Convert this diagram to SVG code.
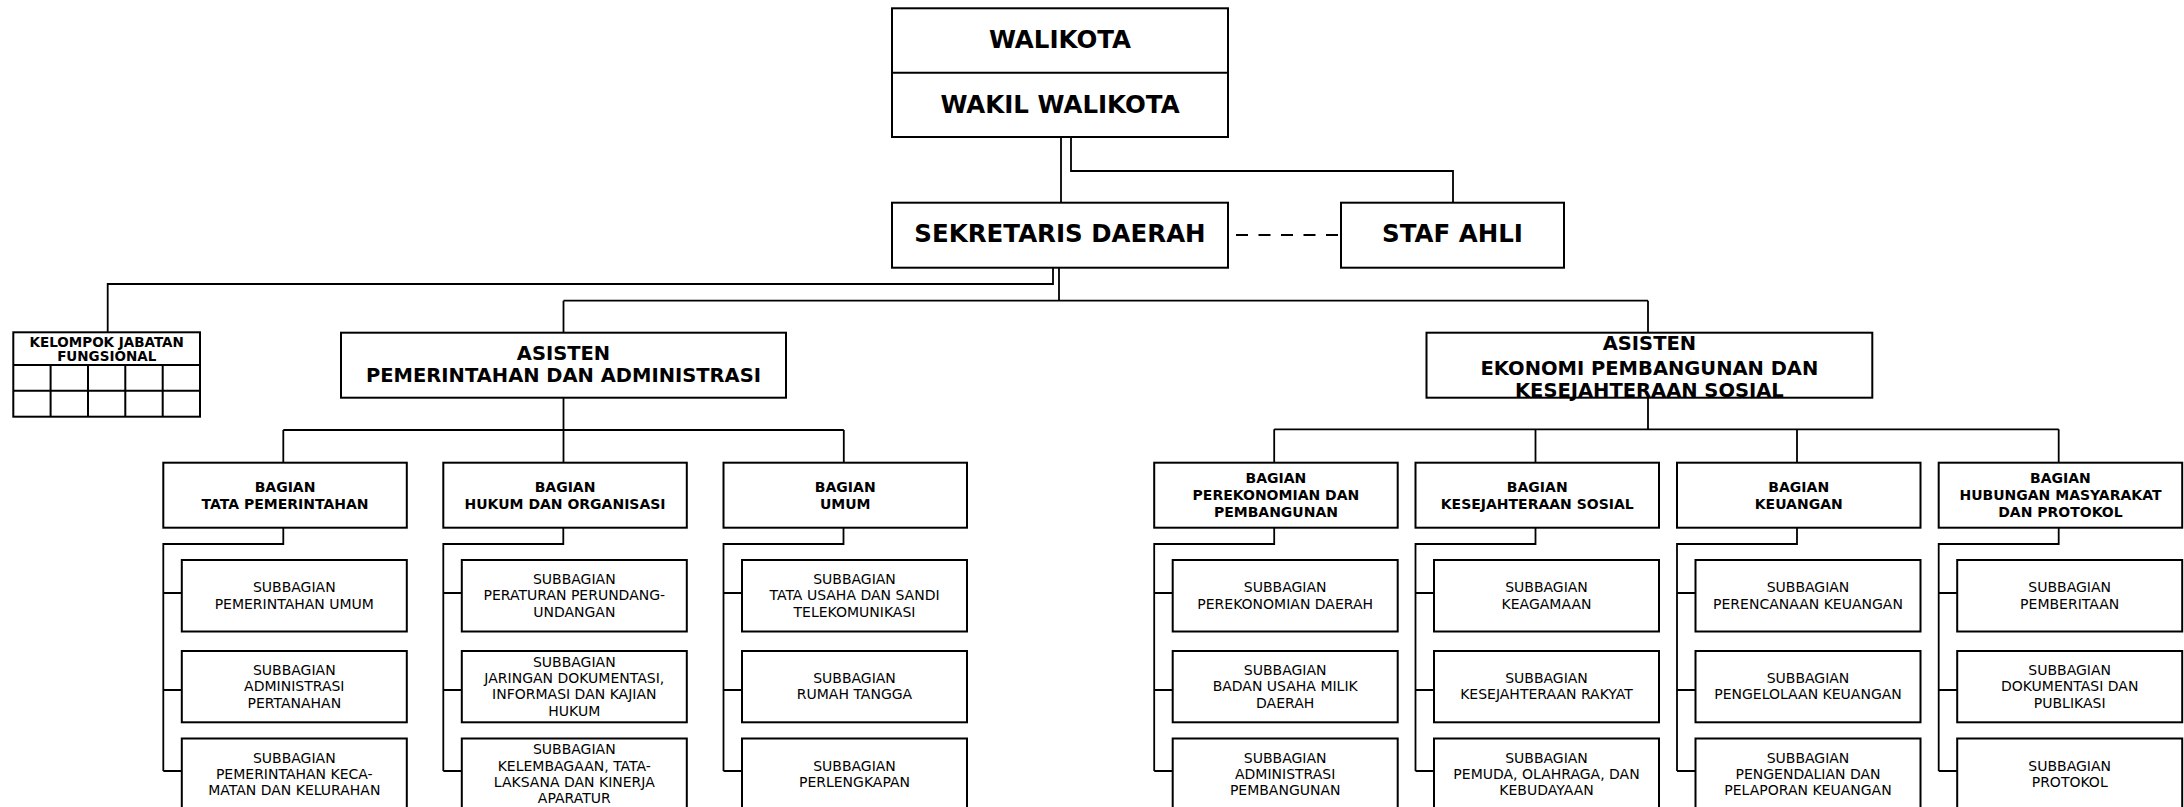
<svg xmlns="http://www.w3.org/2000/svg" width="2184" height="807" viewBox="0 0 2184 807">
<style>
.box{fill:#fff;stroke:#000;stroke-width:2}
.cn{fill:none;stroke:#000;stroke-width:1.8}
text{font-family:"DejaVu Sans","Liberation Sans",sans-serif;fill:#000;text-anchor:middle}
.tt{font-size:24.5px;font-weight:bold}
.ta{font-size:19.5px;font-weight:bold}
.tb{font-size:14px;font-weight:bold}
.ts{font-size:14px}
.tk{font-size:13.5px;font-weight:bold}
</style>
<rect width="2184" height="807" fill="#fff"/>
<g id="connectors">
<path class="cn" d="M1061,137V203"/>
<path class="cn" d="M1071,137V171H1453V203"/>
<path class="cn" d="M1053,267V284H107.7V332"/>
<path class="cn" d="M1059,267V300.7M563.5,300.7H1648M563.5,300.7V332.7M1648,300.7V332.7"/>
<path class="cn" d="M1236,235H1341" stroke-dasharray="12 10.5"/>
<path class="cn" d="M563.5,397.7V462.7M283.3,430H843.8M283.3,430V462.7M843.8,430V462.7"/>
<path class="cn" d="M1648,397.7V429.3M1274.2,429.3H2058.7M1274.2,429.3V462.7M1535.5,429.3V462.7M1797,429.3V462.7M2058.7,429.3V462.7"/>
<path class="cn" d="M283.3,527.7V544H163.3V771M163.3,593H181.8M163.3,690H181.8M163.3,771H181.8"/>
<path class="cn" d="M563.3,527.7V544H443.3V771M443.3,593H461.8M443.3,690H461.8M443.3,771H461.8"/>
<path class="cn" d="M843.5,527.7V544H723.5V771M723.5,593H742M723.5,690H742M723.5,771H742"/>
<path class="cn" d="M1274.2,527.7V544H1154.2V771M1154.2,593H1172.7M1154.2,690H1172.7M1154.2,771H1172.7"/>
<path class="cn" d="M1535.5,527.7V544H1415.5V771M1415.5,593H1434M1415.5,690H1434M1415.5,771H1434"/>
<path class="cn" d="M1797,527.7V544H1677V771M1677,593H1695.5M1677,690H1695.5M1677,771H1695.5"/>
<path class="cn" d="M2058.7,527.7V544H1938.7V771M1938.7,593H1957.2M1938.7,690H1957.2M1938.7,771H1957.2"/>
</g>
<g id="walikota">
<rect class="box" x="892" y="8.3" width="336" height="128.7"/>
<path class="cn" d="M892,72.7H1228" style="stroke-width:2"/>
<text class="tt" x="1060" y="48.3">WALIKOTA</text>
<text class="tt" x="1060" y="113.3">WAKIL WALIKOTA</text>
</g>
<g id="sekda">
<rect class="box" x="892" y="202.7" width="336" height="65"/>
<text class="tt" x="1060" y="241.7">SEKRETARIS DAERAH</text>
</g>
<g id="staf-ahli">
<rect class="box" x="1341" y="202.7" width="223" height="65"/>
<text class="tt" x="1452.5" y="241.7">STAF AHLI</text>
</g>
<g id="kelompok">
<rect class="box" x="13.3" y="332.3" width="186.7" height="84.4"/>
<path class="cn" d="M13.3,365H200M13.3,390.7H200M50.6,365V416.7M88,365V416.7M125.3,365V416.7M162.7,365V416.7" style="stroke-width:2"/>
<text class="tk" x="106.7" y="346.7">KELOMPOK JABATAN</text>
<text class="tk" x="106.7" y="360.7">FUNGSIONAL</text>
</g>
<g id="asisten-pa">
<rect class="box" x="341" y="332.7" width="445" height="65"/>
<text class="ta" x="563.5" y="360.3">ASISTEN</text>
<text class="ta" x="563.5" y="381.5">PEMERINTAHAN DAN ADMINISTRASI</text>
</g>
<g id="asisten-epk">
<rect class="box" x="1426.5" y="332.7" width="445.8" height="65"/>
<text class="ta" x="1649.4" y="349.5">ASISTEN</text>
<text class="ta" x="1649.4" y="374.5">EKONOMI PEMBANGUNAN DAN</text>
<text class="ta" x="1649.4" y="396.5">KESEJAHTERAAN SOSIAL</text>
</g>
<g id="bagian-tata">
<rect class="box" x="163.3" y="462.7" width="243.5" height="65"/>
<text class="tb" x="285.05" y="491.6">BAGIAN</text>
<text class="tb" x="285.05" y="508.6">TATA PEMERINTAHAN</text>
</g>
<g id="sub-tata-1"><rect class="box" x="181.8" y="560" width="225" height="71.5"/>
<text class="ts" x="294.3" y="592.25">SUBBAGIAN</text><text class="ts" x="294.3" y="608.55">PEMERINTAHAN UMUM</text></g>
<g id="sub-tata-2"><rect class="box" x="181.8" y="651" width="225" height="71.3"/>
<text class="ts" x="294.3" y="675">SUBBAGIAN</text><text class="ts" x="294.3" y="691.3">ADMINISTRASI</text><text class="ts" x="294.3" y="707.6">PERTANAHAN</text></g>
<g id="sub-tata-3"><rect class="box" x="181.8" y="738.5" width="225" height="71.3"/>
<text class="ts" x="294.3" y="762.5">SUBBAGIAN</text><text class="ts" x="294.3" y="778.8">PEMERINTAHAN KECA-</text><text class="ts" x="294.3" y="795.1">MATAN DAN KELURAHAN</text></g>
<g id="bagian-hukum">
<rect class="box" x="443.3" y="462.7" width="243.5" height="65"/>
<text class="tb" x="565.05" y="491.6">BAGIAN</text>
<text class="tb" x="565.05" y="508.6">HUKUM DAN ORGANISASI</text>
</g>
<g id="sub-hukum-1"><rect class="box" x="461.8" y="560" width="225" height="71.5"/>
<text class="ts" x="574.3" y="584.1">SUBBAGIAN</text><text class="ts" x="574.3" y="600.4">PERATURAN PERUNDANG-</text><text class="ts" x="574.3" y="616.7">UNDANGAN</text></g>
<g id="sub-hukum-2"><rect class="box" x="461.8" y="651" width="225" height="71.3"/>
<text class="ts" x="574.3" y="666.85">SUBBAGIAN</text><text class="ts" x="574.3" y="683.15">JARINGAN DOKUMENTASI,</text><text class="ts" x="574.3" y="699.45">INFORMASI DAN KAJIAN</text><text class="ts" x="574.3" y="715.75">HUKUM</text></g>
<g id="sub-hukum-3"><rect class="box" x="461.8" y="738.5" width="225" height="71.3"/>
<text class="ts" x="574.3" y="754.35">SUBBAGIAN</text><text class="ts" x="574.3" y="770.65">KELEMBAGAAN, TATA-</text><text class="ts" x="574.3" y="786.95">LAKSANA DAN KINERJA</text><text class="ts" x="574.3" y="803.25">APARATUR</text></g>
<g id="bagian-umum">
<rect class="box" x="723.5" y="462.7" width="243.5" height="65"/>
<text class="tb" x="845.25" y="491.6">BAGIAN</text>
<text class="tb" x="845.25" y="508.6">UMUM</text>
</g>
<g id="sub-umum-1"><rect class="box" x="742" y="560" width="225" height="71.5"/>
<text class="ts" x="854.5" y="584.1">SUBBAGIAN</text><text class="ts" x="854.5" y="600.4">TATA USAHA DAN SANDI</text><text class="ts" x="854.5" y="616.7">TELEKOMUNIKASI</text></g>
<g id="sub-umum-2"><rect class="box" x="742" y="651" width="225" height="71.3"/>
<text class="ts" x="854.5" y="683.15">SUBBAGIAN</text><text class="ts" x="854.5" y="699.45">RUMAH TANGGA</text></g>
<g id="sub-umum-3"><rect class="box" x="742" y="738.5" width="225" height="71.3"/>
<text class="ts" x="854.5" y="770.65">SUBBAGIAN</text><text class="ts" x="854.5" y="786.95">PERLENGKAPAN</text></g>
<g id="bagian-perekonomian">
<rect class="box" x="1154.2" y="462.7" width="243.5" height="65"/>
<text class="tb" x="1275.95" y="483.1">BAGIAN</text>
<text class="tb" x="1275.95" y="500.1">PEREKONOMIAN DAN</text>
<text class="tb" x="1275.95" y="517.1">PEMBANGUNAN</text>
</g>
<g id="sub-perek-1"><rect class="box" x="1172.7" y="560" width="225" height="71.5"/>
<text class="ts" x="1285.2" y="592.25">SUBBAGIAN</text><text class="ts" x="1285.2" y="608.55">PEREKONOMIAN DAERAH</text></g>
<g id="sub-perek-2"><rect class="box" x="1172.7" y="651" width="225" height="71.3"/>
<text class="ts" x="1285.2" y="675">SUBBAGIAN</text><text class="ts" x="1285.2" y="691.3">BADAN USAHA MILIK</text><text class="ts" x="1285.2" y="707.6">DAERAH</text></g>
<g id="sub-perek-3"><rect class="box" x="1172.7" y="738.5" width="225" height="71.3"/>
<text class="ts" x="1285.2" y="762.5">SUBBAGIAN</text><text class="ts" x="1285.2" y="778.8">ADMINISTRASI</text><text class="ts" x="1285.2" y="795.1">PEMBANGUNAN</text></g>
<g id="bagian-kesejahteraan">
<rect class="box" x="1415.5" y="462.7" width="243.5" height="65"/>
<text class="tb" x="1537.25" y="491.6">BAGIAN</text>
<text class="tb" x="1537.25" y="508.6">KESEJAHTERAAN SOSIAL</text>
</g>
<g id="sub-kesej-1"><rect class="box" x="1434" y="560" width="225" height="71.5"/>
<text class="ts" x="1546.5" y="592.25">SUBBAGIAN</text><text class="ts" x="1546.5" y="608.55">KEAGAMAAN</text></g>
<g id="sub-kesej-2"><rect class="box" x="1434" y="651" width="225" height="71.3"/>
<text class="ts" x="1546.5" y="683.15">SUBBAGIAN</text><text class="ts" x="1546.5" y="699.45">KESEJAHTERAAN RAKYAT</text></g>
<g id="sub-kesej-3"><rect class="box" x="1434" y="738.5" width="225" height="71.3"/>
<text class="ts" x="1546.5" y="762.5">SUBBAGIAN</text><text class="ts" x="1546.5" y="778.8">PEMUDA, OLAHRAGA, DAN</text><text class="ts" x="1546.5" y="795.1">KEBUDAYAAN</text></g>
<g id="bagian-keuangan">
<rect class="box" x="1677" y="462.7" width="243.5" height="65"/>
<text class="tb" x="1798.75" y="491.6">BAGIAN</text>
<text class="tb" x="1798.75" y="508.6">KEUANGAN</text>
</g>
<g id="sub-keu-1"><rect class="box" x="1695.5" y="560" width="225" height="71.5"/>
<text class="ts" x="1808" y="592.25">SUBBAGIAN</text><text class="ts" x="1808" y="608.55">PERENCANAAN KEUANGAN</text></g>
<g id="sub-keu-2"><rect class="box" x="1695.5" y="651" width="225" height="71.3"/>
<text class="ts" x="1808" y="683.15">SUBBAGIAN</text><text class="ts" x="1808" y="699.45">PENGELOLAAN KEUANGAN</text></g>
<g id="sub-keu-3"><rect class="box" x="1695.5" y="738.5" width="225" height="71.3"/>
<text class="ts" x="1808" y="762.5">SUBBAGIAN</text><text class="ts" x="1808" y="778.8">PENGENDALIAN DAN</text><text class="ts" x="1808" y="795.1">PELAPORAN KEUANGAN</text></g>
<g id="bagian-humas">
<rect class="box" x="1938.7" y="462.7" width="243.5" height="65"/>
<text class="tb" x="2060.45" y="483.1">BAGIAN</text>
<text class="tb" x="2060.45" y="500.1">HUBUNGAN MASYARAKAT</text>
<text class="tb" x="2060.45" y="517.1">DAN PROTOKOL</text>
</g>
<g id="sub-humas-1"><rect class="box" x="1957.2" y="560" width="225" height="71.5"/>
<text class="ts" x="2069.7" y="592.25">SUBBAGIAN</text><text class="ts" x="2069.7" y="608.55">PEMBERITAAN</text></g>
<g id="sub-humas-2"><rect class="box" x="1957.2" y="651" width="225" height="71.3"/>
<text class="ts" x="2069.7" y="675">SUBBAGIAN</text><text class="ts" x="2069.7" y="691.3">DOKUMENTASI DAN</text><text class="ts" x="2069.7" y="707.6">PUBLIKASI</text></g>
<g id="sub-humas-3"><rect class="box" x="1957.2" y="738.5" width="225" height="71.3"/>
<text class="ts" x="2069.7" y="770.65">SUBBAGIAN</text><text class="ts" x="2069.7" y="786.95">PROTOKOL</text></g>
</svg>
